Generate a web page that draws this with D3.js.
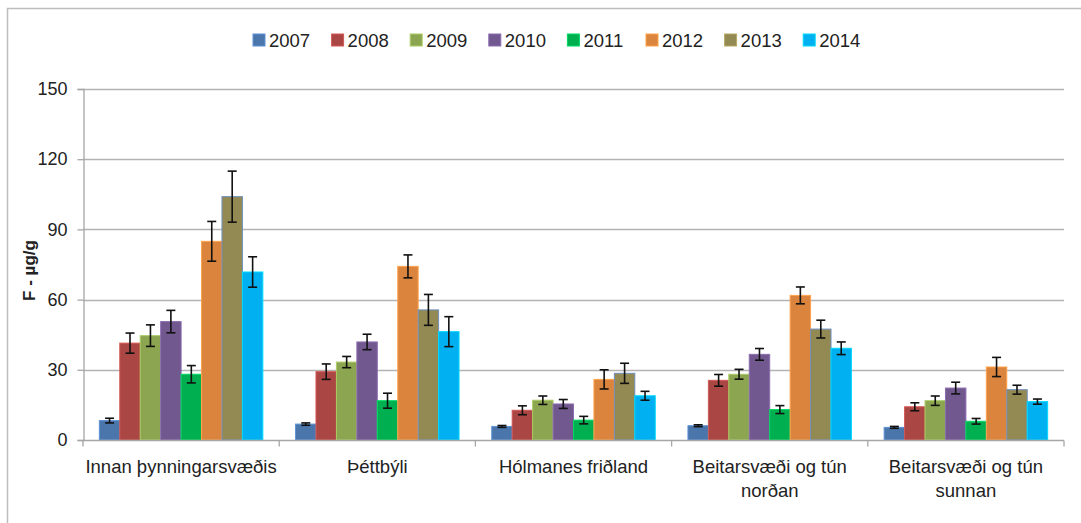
<!DOCTYPE html>
<html>
<head>
<meta charset="utf-8">
<script src="https://cdn.jsdelivr.net/npm/d3@7"></script>
<style>
  body { margin: 0; background: #fff; }
  svg { display: block; font-family: "Liberation Sans", Arial, sans-serif; }
</style>
</head>
<body>
<div id="chart"></div>
<script>
const categories = [["Innan þynningarsvæðis"], ["Þéttbýli"], ["Hólmanes friðland"], ["Beitarsvæði og tún", "norðan"], ["Beitarsvæði og tún", "sunnan"]]
const years = ["2007", "2008", "2009", "2010", "2011", "2012", "2013", "2014"]
const colors = ["#4a76ac", "#aa4643", "#8ba551", "#71588f", "#00b050", "#db843d", "#938953", "#00b0f0"]
const yTicks = [0, 30, 60, 90, 120, 150]

// mean per category, one array per year
const values = {
    "2007": [8.3, 6.8, 5.8, 6.1, 5.4],
    "2008": [41.4, 29.2, 12.7, 25.5, 14.2],
    "2009": [44.6, 33.3, 17.0, 28.1, 16.8],
    "2010": [50.6, 41.9, 15.4, 36.6, 22.2],
    "2011": [28.1, 16.8, 8.5, 13.0, 8.0],
    "2012": [84.9, 74.2, 25.9, 61.8, 31.2],
    "2013": [104.0, 55.6, 28.5, 47.4, 21.5],
    "2014": [71.8, 46.3, 18.9, 39.2, 16.4]
}
// +/- error per category
const errors = {
    "2007": [1.0, 0.5, 0.4, 0.4, 0.4],
    "2008": [4.3, 3.3, 1.9, 2.5, 1.7],
    "2009": [4.6, 2.4, 1.8, 2.1, 2.0],
    "2010": [4.8, 3.3, 1.9, 2.5, 2.5],
    "2011": [3.7, 3.2, 1.6, 1.7, 1.2],
    "2012": [8.5, 4.9, 4.1, 3.6, 4.1],
    "2013": [10.9, 6.6, 4.3, 3.8, 1.9],
    "2014": [6.5, 6.4, 1.9, 2.7, 1.1]
}

const width = 1081
const height = 523
const margin = { top: 89, right: 17, bottom: 83, left: 83 }

const svg = d3.select("#chart").append("svg")
    .attr("width", width)
    .attr("height", height)

svg.append("rect")
    .attr("x", 7.5).attr("y", 8.5)
    .attr("width", width).attr("height", height)
    .attr("fill", "none")
    .attr("stroke", "#bdbdbd")
    .attr("stroke-width", 1.5)

const x0 = d3.scaleBand()
    .domain(d3.range(categories.length))
    .range([margin.left, width - margin.right])

const x1 = d3.scaleBand()
    .domain(years)
    .range([0, x0.bandwidth()])
    .paddingOuter(0.8)

const y = d3.scaleLinear()
    .domain([0, 150])
    .range([height - margin.bottom, margin.top])

const color = d3.scaleOrdinal().domain(years).range(colors)

// gridlines
svg.append("g")
    .selectAll("line")
    .data(yTicks.slice(1))
    .join("line")
    .attr("x1", margin.left).attr("x2", width - margin.right)
    .attr("y1", d => Math.round(y(d)) + 0.5).attr("y2", d => Math.round(y(d)) + 0.5)
    .attr("stroke", "#b3b3b3")
    .attr("stroke-width", 1.3)

// y axis
const yAxis = svg.append("g")
    .attr("transform", `translate(${margin.left + 0.5},0)`)
    .call(d3.axisLeft(y).tickValues(yTicks).tickSize(6).tickPadding(10))
yAxis.select(".domain").attr("stroke", "#a6a6a6").attr("stroke-width", 1.3)
yAxis.selectAll(".tick line").attr("stroke", "#a6a6a6").attr("stroke-width", 1.3)
yAxis.selectAll(".tick text")
    .attr("font-size", 18)
    .attr("fill", "#222")
    .style("font-family", "Liberation Sans, sans-serif")

// bars
const groups = svg.append("g")
    .selectAll("g")
    .data(categories.map((c, i) => i))
    .join("g")
    .attr("transform", i => `translate(${x0(i)},0)`)

groups.selectAll("rect")
    .data(i => years.map(yr => ({ yr, v: values[yr][i], e: errors[yr][i] })))
    .join("rect")
    .attr("x", d => x1(d.yr))
    .attr("y", d => y(d.v))
    .attr("width", x1.bandwidth())
    .attr("height", d => y(0) - y(d.v))
    .attr("fill", d => color(d.yr))
    .attr("stroke", d => d.yr == "2013" ? "#6f8fc0" : d3.color(color(d.yr)).brighter(0.6))
    .attr("stroke-width", 1)

// error bars
const err = groups.selectAll("g.err")
    .data(i => years.map(yr => ({ yr, v: values[yr][i], e: errors[yr][i] })))
    .join("g")
    .attr("class", "err")
    .attr("stroke", "#111")
    .attr("stroke-width", 1.6)

err.append("line")
    .attr("x1", d => x1(d.yr) + x1.bandwidth() / 2)
    .attr("x2", d => x1(d.yr) + x1.bandwidth() / 2)
    .attr("y1", d => y(d.v - d.e))
    .attr("y2", d => y(d.v + d.e))
err.selectAll("line.cap")
    .data(d => [d.v - d.e, d.v + d.e].map(t => ({ ...d, t })))
    .join("line")
    .attr("class", "cap")
    .attr("x1", d => x1(d.yr) + x1.bandwidth() / 2 - 4.5)
    .attr("x2", d => x1(d.yr) + x1.bandwidth() / 2 + 4.5)
    .attr("y1", d => y(d.t))
    .attr("y2", d => y(d.t))

// x axis
const xAxis = svg.append("g")
    .attr("transform", `translate(0,${Math.round(y(0)) + 0.5})`)
xAxis.append("line")
    .attr("x1", margin.left).attr("x2", width - margin.right)
    .attr("stroke", "#a6a6a6").attr("stroke-width", 1.3)
xAxis.selectAll("line.tk")
    .data(d3.range(categories.length + 1))
    .join("line")
    .attr("class", "tk")
    .attr("x1", i => i < categories.length ? x0(i) : x0(i - 1) + x0.bandwidth())
    .attr("x2", i => i < categories.length ? x0(i) : x0(i - 1) + x0.bandwidth())
    .attr("y1", 0).attr("y2", 6)
    .attr("stroke", "#a6a6a6").attr("stroke-width", 1.3)

xAxis.selectAll("text")
    .data(categories)
    .join("text")
    .attr("x", (d, i) => x0(i) + x0.bandwidth() / 2)
    .attr("y", 32)
    .attr("text-anchor", "middle")
    .attr("font-size", 18.5)
    .attr("fill", "#222")
    .selectAll("tspan")
    .data(d => d)
    .join("tspan")
    .attr("x", function() { return this.parentNode.getAttribute("x") })
    .attr("dy", (d, j) => j ? 24 : 0)
    .text(d => d)

// y label
svg.append("text")
    .attr("transform", `translate(35,${(y(0) + y(150)) / 2 + 6}) rotate(-90)`)
    .attr("text-anchor", "middle")
    .attr("font-size", 17)
    .attr("font-weight", "bold")
    .attr("fill", "#222")
    .text("F - µg/g")

// legend
const legend = svg.append("g")
    .attr("transform", "translate(253,40)")
const item = legend.selectAll("g")
    .data(years)
    .join("g")
    .attr("transform", (d, i) => `translate(${i * 78.6},0)`)
item.append("rect")
    .attr("x", 0).attr("y", -6)
    .attr("width", 12).attr("height", 12)
    .attr("fill", d => color(d))
    .attr("stroke", d => d3.color(color(d)).brighter(0.6))
item.append("text")
    .attr("x", 16).attr("y", 7)
    .attr("font-size", 18.5)
    .attr("fill", "#222")
    .text(d => d)
</script>
</body>
</html>
